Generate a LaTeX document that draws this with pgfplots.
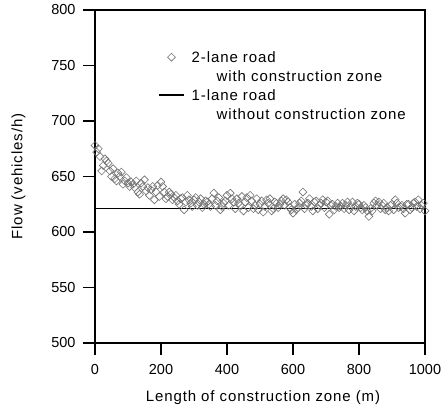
\documentclass[border=0pt]{standalone}
\usepackage{fontspec}
\setmainfont{Liberation Sans}[LetterSpace=6.0]
\newfontfamily\tickfont{Liberation Sans}
\usepackage{pgfplots}
\pgfplotsset{compat=1.18}
\usepackage{pgfplotstable}

\pgfplotstableread{
x y
0 678
10 675
20 655
30 666
40 662
50 650
60 648
70 653
80 654
90 646
100 644
110 645
120 640
130 636
140 644
150 647
160 640
170 638
180 629
190 642
200 645
210 636
220 632
230 634
240 631
250 628
260 630
270 620
280 633
290 626
300 629
310 624
320 630
330 625
340 627
350 623
360 635
370 628
380 620
390 626
400 633
410 635
420 627
430 630
440 624
450 619
460 631
470 633
480 621
490 630
500 625
510 618
520 629
530 630
540 621
550 626
560 625
570 630
580 629
590 622
600 617
610 620
620 626
630 636
640 624
650 630
660 619
670 628
680 624
690 629
700 627
710 616
720 625
730 623
740 622
750 626
760 624
770 620
780 627
790 623
800 625
810 620
820 622
830 614
840 619
850 628
860 627
870 624
880 620
890 619
900 625
910 629
920 622
930 624
940 617
950 625
960 622
970 627
980 629
990 624
1000 619
5 672
15 668
25 660
35 664
45 655
55 657
65 646
75 650
85 643
95 649
105 641
115 643
125 646
135 634
145 641
155 637
165 633
175 641
185 636
195 632
205 641
215 630
225 636
235 629
245 633
255 625
265 631
275 627
285 629
295 623
305 631
315 627
325 622
335 628
345 625
355 630
365 624
375 631
385 623
395 628
405 624
415 630
425 621
435 626
445 632
455 627
465 622
475 628
485 624
495 620
505 628
515 623
525 626
535 619
545 627
555 622
565 628
575 624
585 627
595 620
605 625
615 622
625 628
635 621
645 626
655 623
665 627
675 621
685 626
695 622
705 628
715 624
725 620
735 626
745 623
755 621
765 627
775 623
785 619
795 626
805 622
815 624
825 619
835 621
845 626
855 624
865 621
875 626
885 622
895 624
905 620
915 626
925 623
935 621
945 625
955 620
965 626
975 623
985 621
995 626
}\twolane

\pgfplotstableread{
x y
0 621
1000 621
}\onelane

\begin{document}
\begin{tikzpicture}
\begin{axis}[
  scale only axis,
  width=330pt, height=333pt,
  xmin=0, xmax=1000, ymin=500, ymax=800,
  xtick={0,200,400,600,800,1000},
  ytick={500,550,600,650,700,750,800},
  axis line style={line width=1.8pt},
  every tick/.style={line width=1.8pt, black},
  major tick length=12pt,
  tick align=outside,
  xtick pos=bottom, ytick pos=left,
  /pgf/number format/assume math mode=true,
  /pgf/number format/1000 sep={},
  tick label style={font=\tickfont\fontsize{14.5}{16}\selectfont},
  yticklabel style={xshift=-4pt},
  xticklabel style={yshift=-6pt},
  clip=false,
  xlabel={Length of construction zone (m)},
  ylabel={Flow (vehicles/h)},
  every axis x label/.style={at={(axis description cs:0.509,-0.1742)}, anchor=base, font=\fontsize{15}{18}\selectfont},
  every axis y label/.style={at={(axis description cs:-0.2318,0.5)}, anchor=center, rotate=90, font=\fontsize{15}{18}\selectfont},
  legend style={at={(rel axis cs:0.1909,0.8799)}, anchor=north west, draw=none, fill=none,
    inner sep=0pt, column sep=7pt, row sep=5pt,
    font=\fontsize{15}{18}\selectfont,
    nodes={inner sep=0pt, text height=12.5pt, text depth=1.5pt}},
  legend cell align=left,
]
\addplot[only marks, mark=square, mark size=2.8pt, mark options={rotate=45, draw=black!55, line width=0.6pt, fill=none},
  legend image post style={xshift=4pt}] table[x=x,y=y] {\twolane};
\addlegendentry{2-lane road}
\addlegendimage{empty legend}
\addlegendentry{\hspace{25pt}with construction zone}
\addplot[black, line width=1.5pt, no marks,
  legend image code/.code={\draw[black, line width=1.5pt] (0pt,0pt) -- (25pt,0pt);}] table[x=x,y=y] {\onelane};
\addlegendentry{1-lane road}
\addlegendimage{empty legend}
\addlegendentry{\hspace{25pt}without construction zone}
\end{axis}
\pgfresetboundingbox
\path ([shift={(-95pt,-68pt)}]current axis.south west) rectangle ++(444pt,411pt);
\end{tikzpicture}
\end{document}
